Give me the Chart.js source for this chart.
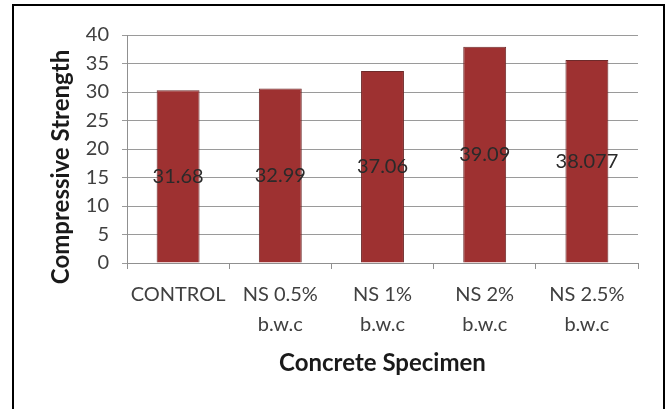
<!DOCTYPE html>
<html>
<head>
<meta charset="utf-8">
<script src="https://cdn.jsdelivr.net/npm/chart.js@4.4.0/dist/chart.umd.min.js"></script>
<style>
html,body{margin:0;padding:0;background:#fff;}
#wrap{position:relative;width:669px;height:409px;overflow:hidden;}
#box{position:absolute;left:12px;top:4px;width:649px;height:420px;border:2px solid #000;}
canvas{position:absolute;left:0;top:0;}
</style>
</head>
<body>
<div id="wrap">
<div id="box"></div>
<canvas id="c" width="669" height="409"></canvas>
</div>
<script>
const categories = [["CONTROL"], ["NS 0.5%", "b.w.c"], ["NS 1%", "b.w.c"], ["NS 2%", "b.w.c"], ["NS 2.5%", "b.w.c"]];
const barValues = [30.3, 30.6, 33.7, 37.95, 35.6];
const dataLabels = ["31.68", "32.99", "37.06", "39.09", "38.077"];
const yTicks = [0, 5, 10, 15, 20, 25, 30, 35, 40];
const yTitle = "Compressive Strength";
const xTitle = "Concrete Specimen";

const FONT = "Lato, 'Open Sans', sans-serif";

const extras = {
  id: 'extras',
  afterDatasetsDraw(chart) {
    const ctx = chart.ctx;
    const meta = chart.getDatasetMeta(0);
    ctx.save();
    ctx.font = "20px " + FONT;
    ctx.fillStyle = "#2a2a2a";
    ctx.textAlign = "center";
    ctx.textBaseline = "middle";
    meta.data.forEach((bar, i) => {
      const y = (bar.y + bar.base) / 2;
      ctx.fillText(dataLabels[i], bar.x, y);
    });
    ctx.restore();
  },
  afterDraw(chart) {
    const ctx = chart.ctx;
    ctx.save();
    ctx.translate(61, 167);
    ctx.rotate(-Math.PI / 2);
    ctx.font = "bold 24px " + FONT;
    ctx.fillStyle = "#1a1a1a";
    ctx.textAlign = "center";
    ctx.textBaseline = "middle";
    ctx.fillText(yTitle, 0, 0);
    ctx.restore();
  }
};

new Chart(document.getElementById('c'), {
  type: 'bar',
  data: {
    labels: categories,
    datasets: [{
      data: barValues,
      backgroundColor: '#9e3131',
      borderColor: '#6e2a2a',
      borderWidth: 1,
      categoryPercentage: 1.0,
      barPercentage: 0.42
    }]
  },
  options: {
    responsive: false,
    animation: false,
    devicePixelRatio: 1,
    layout: { padding: { left: 14, right: 31, top: 35, bottom: 26 } },
    plugins: { legend: { display: false }, tooltip: { enabled: false } },
    scales: {
      x: {
        afterFit(scale) { scale.height = 409 - 26 - 263; },
        grid: { display: true, drawOnChartArea: false, offset: true, tickLength: 6, color: '#909090' },
        border: { display: true, color: '#909090' },
        ticks: { font: { family: FONT, size: 20, lineHeight: 1.5 }, color: '#404040', padding: 11, maxRotation: 0, autoSkip: false },
        title: { display: true, text: xTitle, font: { family: FONT, size: 24, weight: 'bold' }, color: '#1a1a1a', padding: { top: 0, bottom: 5 } }
      },
      y: {
        min: 0, max: 40,
        afterFit(scale) { scale.width = 127 - 14; },
        afterBuildTicks(scale) { scale.ticks = yTicks.map(v => ({ value: v })); },
        grid: { color: '#9a9a9a', tickLength: 5 },
        border: { display: true, color: '#909090' },
        ticks: { font: { family: FONT, size: 20 }, color: '#404040', padding: 13 },
        title: { display: false }
      }
    }
  },
  plugins: [extras]
});
</script>
</body>
</html>
